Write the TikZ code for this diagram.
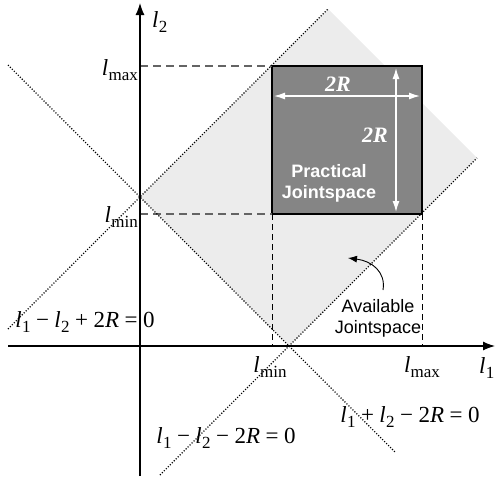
\documentclass[tikz,border=0pt]{standalone}
\usepackage{fontspec}
\setmainfont{Liberation Serif}
\setsansfont{Liberation Sans}
\usetikzlibrary{arrows.meta}
\definecolor{availgray}{RGB}{236,236,236}
\definecolor{practgray}{RGB}{133,133,133}
\definecolor{dashgray}{RGB}{100,100,100}
\newcommand{\lsub}[1]{\textit{l}\kern0.3pt\raisebox{-5pt}{\fontsize{17}{17}\selectfont #1}}
\newcommand{\gp}{\hspace{5.5pt}}
\begin{document}
\begin{tikzpicture}[x=1pt,y=-1pt,
  lbl/.style={inner sep=0pt, font=\fontsize{23}{27}\selectfont},
  sanslbl/.style={inner sep=0pt, font=\sffamily\fontsize{18}{21}\selectfont, align=center},
  whitelbl/.style={inner sep=0pt, text=white, font=\fontsize{22}{25}\selectfont\bfseries\itshape},
  axisline/.style={line width=1.2pt, -{Latex[length=12pt,width=9pt]}},
  diagline/.style={line width=1.1pt, dash pattern=on 1.1pt off 1.7pt},
  hdash/.style={dashgray, line width=1.8pt, dash pattern=on 8pt off 5pt},
  vdash/.style={black, line width=0.9pt, dash pattern=on 6pt off 4pt},
  warrow/.style={white, line width=1.3pt, {Latex[length=11pt,width=7pt]}-{Latex[length=11pt,width=7pt]}}
]
\useasboundingbox (0,0) rectangle (495,483);
% key points
\coordinate (O) at (140,346);
\coordinate (Lc) at (140,197);
\coordinate (Bc) at (289,346);
\coordinate (Tc) at (328,9);
\coordinate (Rc) at (477,158);
\coordinate (SqTL) at (272,66);
\coordinate (SqBL) at (272,214);
\coordinate (SqBR) at (422,214);
\coordinate (SqTR) at (422,66);
\coordinate (YmaxA) at (140,66);
\coordinate (YminA) at (140,214);
\coordinate (XminA) at (272,346);
\coordinate (XmaxA) at (422,346);
% available jointspace
\fill[availgray] (Lc) -- (Tc) -- (Rc) -- (Bc) -- cycle;
% practical jointspace
\filldraw[fill=practgray, draw=black, line width=2.8pt] (SqTL) rectangle (SqBR);
% dashed guides
\draw[hdash] (YmaxA) -- (SqTL);
\draw[hdash] (YminA) -- (SqBL);
\draw[vdash] (SqBL) -- (XminA);
\draw[vdash] (SqBR) -- (XmaxA);
% dotted diagonals
\coordinate (d1a) at (8,329);
\coordinate (d1b) at (Tc);
\coordinate (d2a) at (8,65);
\coordinate (d2b) at (396,453);
\coordinate (d3a) at (160,475);
\coordinate (d3b) at (Rc);
\draw[diagline] (d1a) -- (d1b);
\draw[diagline] (d2a) -- (d2b);
\draw[diagline] (d3a) -- (d3b);
% axes
\coordinate (xs) at (8,346);
\coordinate (xe) at (495,346);
\coordinate (ys) at (140,476);
\coordinate (ye) at (140,3);
\draw[axisline] (xs) -- (xe);
\draw[axisline] (ys) -- (ye);
% white dimension arrows
\coordinate (hA) at (274,96);
\coordinate (hB) at (420,96);
\coordinate (vA) at (396,68);
\coordinate (vB) at (396,212);
\draw[warrow] (hA) -- (hB);
\draw[warrow] (vA) -- (vB);
% labels
\node[lbl, anchor=base west] (l2lab) at (152,27) {\lsub{2}};
\node[lbl, anchor=base east] (lmaxy) at (138,75) {\lsub{max}};
\node[lbl, anchor=base east] (lminy) at (138,222) {\lsub{min}};
\node[lbl, anchor=base] (lminx) at (270,372) {\lsub{min}};
\node[lbl, anchor=base] (lmaxx) at (422,372) {\lsub{max}};
\node[lbl, anchor=base west] (l1lab) at (479,373) {\lsub{1}};
\node[lbl, anchor=base] (eqA) at (85,327) {\lsub{1}\gp−\gp\lsub{2}\gp+\gp2\textit{R}\gp=\gp0};
\node[lbl, anchor=base] (eqB) at (226,443) {\lsub{1}\gp−\gp\lsub{2}\gp−\gp2\textit{R}\gp=\gp0};
\node[lbl, anchor=base] (eqC) at (410,422) {\lsub{1}\gp+\gp\lsub{2}\gp−\gp2\textit{R}\gp=\gp0};
\node[sanslbl] (avail) at (378,318) {Available\\Jointspace};
\node[sanslbl, text=white, font=\sffamily\bfseries\fontsize{18}{21}\selectfont] (pract) at (329,183) {Practical\\Jointspace};
\node[whitelbl] (twoRh) at (338,84) {2R};
\node[whitelbl] (twoRv) at (375,135) {2R};
% pointer arrow
\coordinate (ps) at (383,290);
\coordinate (pe) at (348,258);
\draw[line width=0.9pt, -{Latex[length=9pt,width=7pt]}] (ps) .. controls (386,272) and (372,261) .. (pe);
\end{tikzpicture}
\end{document}
